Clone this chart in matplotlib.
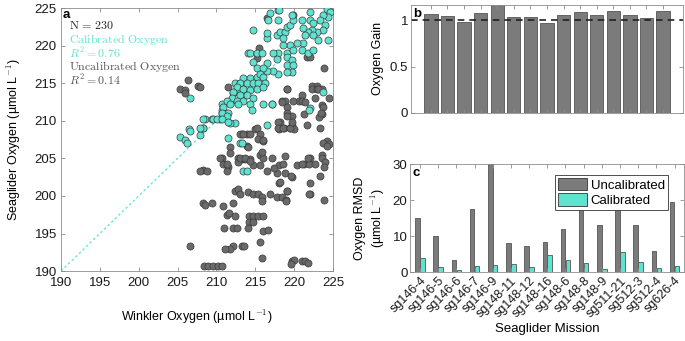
import numpy as np
import matplotlib
matplotlib.use('Agg')
import matplotlib.pyplot as plt
from matplotlib.patches import Patch

plt.rcParams['font.family'] = ['Liberation Sans', 'DejaVu Sans']
plt.rcParams['mathtext.fontset'] = 'cm'

# panel a : winkler vs seaglider oxygen
cal_pts = [
    (205.3, 207.8), (206.0, 207.5), (206.2, 207.0), (206.5, 208.9), (206.6, 213.0), (207.9, 208.1),
    (208.3, 209.1), (208.5, 210.2), (209.4, 210.3), (210.5, 210.3), (210.7, 211.0), (210.7, 211.5),
    (210.7, 212.3), (211.7, 212.7), (212.1, 213.7), (212.6, 214.3), (212.4, 215.1), (213.0, 215.1),
    (213.7, 215.4), (213.3, 213.0), (213.7, 213.8), (214.1, 219.0), (212.4, 209.7), (211.7, 209.7),
    (211.5, 207.7), (213.0, 207.0),
    (224.2, 224.9), (224.6, 224.5), (224.4, 223.8), (223.7, 224.1), (223.3, 223.4), (224.0, 222.7),
    (223.7, 222.1), (222.9, 221.8), (222.3, 222.1), (221.8, 221.8), (221.1, 222.3), (221.0, 223.4),
    (222.0, 223.4), (222.4, 223.0), (221.4, 221.4), (222.4, 221.4), (223.1, 220.7), (224.4, 220.7),
    (221.1, 220.3), (220.4, 220.3), (219.5, 220.1), (218.6, 220.1), (217.8, 221.4), (218.2, 221.8),
    (218.8, 221.8), (219.1, 222.5), (219.5, 222.7), (219.9, 223.4), (219.7, 224.1), (217.9, 224.7),
    (216.9, 224.3), (216.6, 223.4), (217.9, 223.4), (214.7, 222.1), (216.5, 221.0), (218.6, 221.0),
    (219.1, 219.1), (219.9, 219.4), (221.0, 219.4), (221.8, 219.1), (222.4, 219.4), (217.9, 219.1),
    (217.3, 219.0), (214.3, 219.0), (215.2, 219.0), (215.9, 219.0), (214.7, 217.8), (216.5, 217.7),
    (217.8, 218.3), (219.1, 218.5), (219.7, 218.1), (219.1, 217.4), (219.9, 217.4), (219.7, 216.5),
    (219.1, 216.5), (217.9, 216.3), (217.3, 216.7), (216.5, 216.7), (215.2, 217.1), (216.0, 217.0),
    (216.5, 221.7), (218.1, 224.7), (222.0, 224.5),
    (213.4, 215.7), (214.3, 215.7), (215.2, 215.8), (215.6, 216.3), (216.0, 215.8), (213.0, 215.0),
    (213.9, 215.0), (214.7, 215.1), (215.4, 215.1), (216.3, 215.1), (212.6, 214.5), (213.4, 214.3),
    (214.3, 214.1), (215.2, 214.3), (216.0, 214.5), (212.1, 213.8), (213.0, 213.4), (213.9, 213.4),
    (214.7, 213.1), (212.0, 213.1), (211.4, 212.7), (212.6, 212.7), (213.4, 212.7), (214.3, 212.3),
    (216.0, 212.3), (217.2, 212.3), (212.8, 212.3), (211.8, 212.3), (210.8, 211.8), (211.5, 211.1),
    (210.7, 211.1), (214.6, 211.4), (211.4, 210.7), (209.6, 210.3), (208.3, 210.3), (210.1, 210.3),
    (210.7, 210.2), (211.5, 209.8), (216.5, 209.4), (206.6, 208.7), (208.3, 209.0), (207.9, 209.1),
    (213.3, 207.0), (223.7, 213.8), (222.0, 211.7), (217.2, 212.2), (221.9, 211.5), (213.4, 203.3),
    (213.9, 203.3),
]
uncal_pts = [
    (205.3, 214.3), (206.0, 214.1), (206.3, 215.4), (206.0, 213.7), (207.6, 214.6), (216.5, 223.7),
    (219.9, 224.1), (221.7, 218.5), (222.1, 218.5), (223.8, 217.0), (215.5, 219.7), (215.2, 218.4),
    (211.5, 214.5), (207.9, 214.5),
    (213.3, 208.2), (213.9, 208.2), (215.0, 208.9), (215.6, 208.2), (215.3, 207.6), (219.1, 214.2),
    (221.0, 213.5), (222.3, 214.7), (222.9, 214.7), (222.3, 214.2), (222.9, 214.2), (223.6, 214.2),
    (224.5, 213.1), (222.7, 213.0), (218.4, 212.6), (218.8, 212.6), (220.6, 212.6), (221.0, 212.7),
    (221.4, 212.5), (219.1, 211.8), (219.1, 211.1), (219.7, 210.7), (221.3, 210.9), (223.6, 212.1),
    (223.6, 210.9), (223.2, 210.5), (218.2, 209.8), (219.7, 209.5), (218.1, 208.9), (218.7, 209.1),
    (219.5, 209.1), (220.0, 208.9), (223.3, 209.1),
    (213.9, 206.6), (216.0, 207.3), (211.8, 206.5), (211.8, 205.7), (210.7, 205.0), (210.9, 204.2),
    (211.5, 203.8), (212.8, 205.0), (213.3, 204.9), (213.7, 204.9), (214.3, 204.9), (212.8, 204.5),
    (214.7, 204.1), (215.6, 205.5), (216.0, 205.0), (216.5, 203.3), (208.3, 203.5), (207.9, 203.3),
    (208.8, 203.3),
    (212.4, 200.6), (212.8, 200.9), (213.0, 200.2), (214.1, 200.5), (214.7, 200.2), (215.4, 200.2),
    (215.9, 199.9), (215.9, 199.3), (208.3, 199.1), (209.4, 199.1), (210.9, 198.6), (212.1, 199.1),
    (211.4, 203.3), (217.8, 203.1), (218.8, 203.0), (219.7, 202.5), (223.3, 202.7), (218.1, 201.7),
    (222.0, 201.7), (216.9, 200.3), (217.8, 199.9), (218.4, 199.9), (219.1, 200.7), (219.0, 199.4),
    (222.0, 200.2), (223.8, 199.5), (208.6, 198.8), (211.4, 197.5), (211.6, 197.7), (212.4, 197.3),
    (214.2, 197.4), (214.7, 197.4), (215.4, 197.4), (216.0, 197.3), (214.2, 196.6), (214.7, 196.6),
    (211.0, 195.7), (212.1, 195.7), (212.7, 195.7), (214.1, 195.7), (216.0, 195.3), (216.6, 195.5),
    (215.6, 193.9), (206.6, 193.3), (212.1, 193.3), (213.3, 193.3), (213.6, 193.3), (211.8, 193.0),
    (211.1, 193.0), (215.9, 191.8), (208.4, 190.7), (208.9, 190.7), (209.6, 190.7), (210.2, 190.7),
    (210.7, 190.7), (219.7, 191.4), (220.0, 191.5), (221.0, 191.4), (221.4, 191.4), (221.8, 191.1),
    (219.6, 190.9),
    (224.2, 207.3), (224.5, 206.9), (223.6, 205.5), (223.6, 205.0), (224.0, 204.5), (223.8, 203.8),
    (222.0, 205.1), (221.3, 204.3), (221.9, 204.3), (222.7, 204.3), (220.4, 204.1), (218.8, 205.3),
    (217.2, 205.0), (218.1, 204.1), (217.4, 203.7), (219.6, 202.6), (218.2, 201.8), (219.1, 200.6),
    (219.0, 199.3), (221.9, 200.2),
    (219.1, 214.3), (219.9, 212.7), (218.4, 212.5), (223.1, 214.3), (223.7, 211.8), (223.5, 211.0),
    (223.7, 207.1), (224.2, 206.7), (221.8, 205.1), (221.0, 204.3), (218.6, 204.3), (215.9, 205.8),
    (216.0, 207.4), (214.1, 206.5), (213.0, 208.3), (213.4, 208.3), (214.3, 208.3), (215.2, 209.0),
    (210.5, 205.0), (211.4, 204.3), (213.0, 205.1), (213.7, 205.0), (214.3, 204.7), (215.6, 204.1),
    (217.9, 209.8), (217.9, 209.0), (218.6, 209.0), (219.5, 209.1), (219.7, 209.8), (219.1, 210.7),
    (221.7, 209.4),
]

# panels b, c
missions = ['sg146-4', 'sg146-5', 'sg146-6', 'sg146-7', 'sg146-9', 'sg148-11', 'sg148-12',
            'sg148-16', 'sg148-6', 'sg148-8', 'sg148-9', 'sg511-21', 'sg512-3', 'sg512-4', 'sg626-4']
gain = [1.068, 1.05, 0.986, 1.083, 1.19, 1.036, 1.036, 0.971, 1.058, 1.09, 1.061, 1.108, 1.061, 1.029, 1.10]
rmsd_uncal = [14.9, 10.1, 3.4, 17.4, 30.0, 8.0, 7.3, 8.4, 12.0, 19.0, 13.0, 19.0, 13.0, 5.9, 19.5]
rmsd_cal = [3.9, 1.5, 0.5, 1.7, 2.0, 2.2, 1.4, 4.8, 3.4, 2.5, 0.8, 5.6, 2.8, 1.1, 1.6]

CYAN = '#5ee3d1'
GRAY = '#6a6a6a'
BARGRAY = '#7b7b7b'
SPINE = '#8c8c8c'
FS = 9


def style(ax):
    for s in ax.spines.values():
        s.set_color(SPINE)
        s.set_linewidth(0.6)
    ax.tick_params(direction='in', top=True, right=True, length=3, width=0.6,
                   color=SPINE, labelsize=FS + 0.5, labelcolor='#1a1a1a', pad=2)


fig = plt.figure(figsize=(6.85, 3.41), dpi=100)

# ---- a
ax = fig.add_axes([0.089, 0.205, 0.397, 0.771])
style(ax)
ax.tick_params(axis='x', pad=4)
ax.tick_params(axis='y', pad=3)
ux, uy = zip(*uncal_pts)
cx, cy = zip(*cal_pts)
ax.plot([190, 225], [190, 225], color=CYAN, ls=(0, (2, 2)), lw=0.9, zorder=1)
ax.scatter(ux, uy, s=26, c=GRAY, edgecolors='#3a3a3a', linewidths=0.5, zorder=2)
ax.scatter(cx, cy, s=26, c=CYAN, edgecolors='#3a3a3a', linewidths=0.5, zorder=3)
ax.set_xlim(190, 225)
ax.set_ylim(190, 225)
ax.set_xticks(np.arange(190, 226, 5))
ax.set_yticks(np.arange(190, 226, 5))
ax.set_xlabel('Winkler Oxygen (µmol L$^{\\mathsf{-1}}$)', fontsize=FS, labelpad=14)
ax.set_ylabel('Seaglider Oxygen (µmol L$^{\\mathsf{-1}}$)', fontsize=FS, labelpad=8)
ax.text(0.006, 0.997, 'a', transform=ax.transAxes, fontsize=9.5, fontweight='bold', va='top')
lines = [('$\\mathrm{N\\,=\\,230}$', '#222222'),
         ('$\\mathrm{Calibrated\\ Oxygen}$', CYAN),
         ('$R^2 = 0.76$', CYAN),
         ('$\\mathrm{Uncalibrated\\ Oxygen}$', '#555555'),
         ('$R^2 = 0.14$', '#555555')]
for i, (t, col) in enumerate(lines):
    ax.text(0.028, 0.933 - i * 0.052, t, transform=ax.transAxes, fontsize=8.6, color=col, va='center')

# ---- b
pos = np.arange(1, len(missions) + 1)
axb = fig.add_axes([0.600, 0.669, 0.397, 0.317])
style(axb)
axb.bar(pos, gain, width=0.8, color=BARGRAY, edgecolor='#555555', linewidth=0.6)
axb.axhline(1, color='#222222', ls=(0, (4, 3)), lw=1.2)
axb.set_xlim(-0.2, 16.2)
axb.set_ylim(0, 1.17)
axb.set_yticks([0, 0.5, 1])
axb.set_yticklabels(['0', '0.5', '1'])
axb.set_xticks(pos)
axb.set_xticklabels([])
axb.set_ylabel('Oxygen Gain', fontsize=FS)
axb.text(0.008, 0.97, 'b', transform=axb.transAxes, fontsize=9.5, fontweight='bold', va='top')

# ---- c
axc = fig.add_axes([0.599, 0.202, 0.399, 0.317])
style(axc)
w = 0.25
axc.bar(pos - 0.135, rmsd_uncal, width=w, color=BARGRAY, edgecolor='#555555', linewidth=0.6)
axc.bar(pos + 0.135, rmsd_cal, width=w, color=CYAN, edgecolor='#555555', linewidth=0.6)
axc.set_xlim(0.47, 15.5)
axc.set_ylim(0, 30)
axc.set_yticks([0, 10, 20, 30])
axc.set_xticks(pos)
axc.set_xticklabels(missions, rotation=45, ha='right', rotation_mode='anchor', fontsize=FS)
axc.set_ylabel('Oxygen RMSD\n(µmol L$^{\\mathsf{-1}}$)', fontsize=FS, labelpad=4)
axc.set_xlabel('Seaglider Mission', fontsize=FS + 0.5, labelpad=2)
axc.text(0.008, 0.97, 'c', transform=axc.transAxes, fontsize=9.5, fontweight='bold', va='top')
handles = [Patch(facecolor=BARGRAY, edgecolor='#333333', lw=0.6, label='Uncalibrated'),
           Patch(facecolor=CYAN, edgecolor='#333333', lw=0.6, label='Calibrated')]
leg = axc.legend(handles=handles, loc='upper right', bbox_to_anchor=(0.941, 0.898), fontsize=FS + 0.5,
                 fancybox=False, edgecolor='#333333', framealpha=1, borderpad=0.2,
                 handlelength=2.2, handleheight=1.1, handletextpad=0.3, labelspacing=0.15,
                 borderaxespad=0.0)
leg.get_frame().set_linewidth(0.6)

fig.savefig('out.png', dpi=100)
